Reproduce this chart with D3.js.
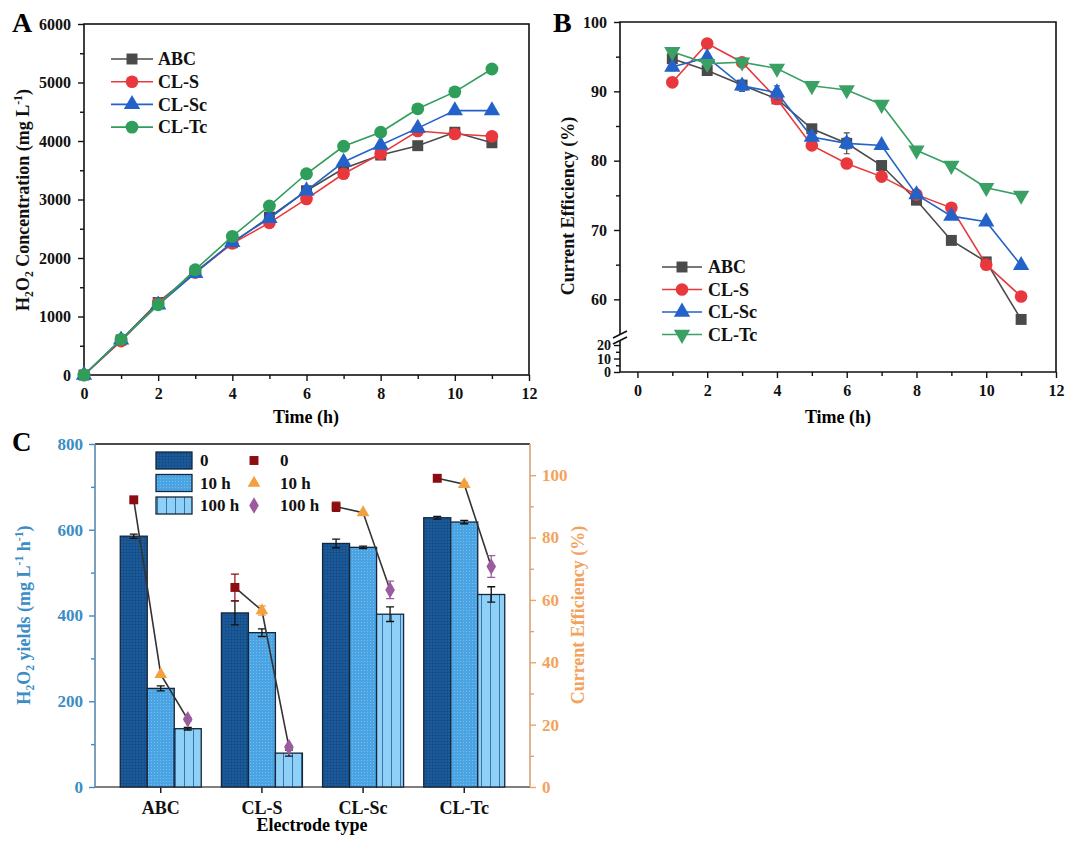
<!DOCTYPE html>
<html>
<head>
<meta charset="utf-8">
<script src="https://cdn.jsdelivr.net/npm/d3@7"></script>
<style>
  body { margin: 0; background: #fff; }
  svg text { font-family: "Liberation Serif", "Times New Roman", serif; font-weight: bold; }
</style>
</head>
<body>
<div id="chart"></div>
<script>
// Data, panel A (H2O2 concentration vs time)
const hoursA = [0, 1, 2, 3, 4, 5, 6, 7, 8, 9, 10, 11];
const concABC = [0, 600, 1240, 1760, 2260, 2700, 3150, 3530, 3760, 3920, 4150, 3970];
const concCLS = [0, 580, 1230, 1750, 2250, 2600, 3010, 3440, 3780, 4170, 4120, 4080];
const concCLSc = [0, 600, 1200, 1740, 2270, 2680, 3150, 3640, 3930, 4220, 4520, 4520];
const concCLTc = [0, 610, 1200, 1800, 2370, 2890, 3440, 3910, 4150, 4550, 4840, 5230];

// Data, panel B (current efficiency vs time)
const hoursB = [1, 2, 3, 4, 5, 6, 7, 8, 9, 10, 11];
const effABC = [94.7, 93.0, 90.9, 88.9, 84.6, 82.5, 79.3, 74.3, 68.5, 65.4, 57.1];
const effCLS = [91.3, 96.9, 94.2, 88.9, 82.2, 79.6, 77.7, 75.1, 73.2, 65.0, 60.4];
const effCLSc = [93.5, 94.9, 90.8, 89.8, 83.4, 82.5, 82.2, 75.1, 72.0, 71.2, 64.9];
const effCLTc = [95.7, 94.0, 94.2, 93.3, 90.8, 90.2, 88.1, 81.5, 79.3, 76.1, 75.0];
const errABC = [0.5, 0.5, 0.5, 0.5, 0.5, 1.5, 0.5, 0.5, 0.3, 0.5, 0.3];
const errCLSc = [0.5, 0.5, 0.8, 1.0, 0.5, 0.8, 0.3, 0.5, 0.3, 0.3, 0.3];

// Data, panel C (yields and efficiency by electrode)
const electrodes = ['ABC', 'CL-S', 'CL-Sc', 'CL-Tc'];
const stages = ['0', '10 h', '100 h'];
const yield0 = [585, 406, 568, 628];
const yield10 = [230, 360, 559, 618];
const yield100 = [136, 79, 403, 449];
const yieldErr0 = [5, 28, 10, 3];
const yieldErr10 = [6, 9, 3, 4];
const yieldErr100 = [3, 7, 17, 18];
const ce0 = [92.1, 64.0, 89.9, 99.0];
const ce10 = [36.1, 56.6, 88.0, 97.1];
const ce100 = [21.7, 12.8, 63.2, 70.7];
const ceErr0 = [0, 4.3, 1.5, 0];
const ceErr10 = [0, 1.5, 0, 0.6];
const ceErr100 = [0.5, 0.5, 2.8, 3.5];

const colABC = '#4a4a4a', colS = '#e8383d', colSc = '#2362c9', colTc = '#2f9e5a';
const fmt = d3.format('d');

const svg = d3.select('#chart').append('svg')
    .attr('width', 1080)
    .attr('height', 845);

// helper: style a d3 axis group
function styleAxis(g, size, color) {
    g.select('.domain').remove();
    g.selectAll('line').attr('stroke', color || '#111').attr('stroke-width', 1.4);
    g.selectAll('text').attr('font-size', size || 16).attr('fill', color || '#111');
}

// helper: rotated axis title with H2O2 subscripts etc
function addTitle(g, x, y, rot, parts, size, color) {
    const t = g.append('text')
        .attr('transform', `translate(${x},${y}) rotate(${rot})`)
        .attr('text-anchor', 'middle')
        .attr('font-size', size)
        .attr('fill', color || '#111');
    parts.forEach(p => {
        const sp = t.append('tspan').text(p.t);
        if (p.sub) sp.attr('font-size', size * 0.65).attr('dy', 4);
        if (p.sup) sp.attr('font-size', size * 0.65).attr('dy', -7);
        if (p.back) sp.attr('dy', p.back);
    });
    return t;
}

function symbolPath(type, size) {
    return d3.symbol().type(type).size(size)();
}

// Panel A
function drawPanelA() {
    const g = svg.append('g');
    const x = d3.scaleLinear().domain([0, 12]).range([84, 529]);
    const y = d3.scaleLinear().domain([0, 6000]).range([375, 24]);

    g.append('g').attr('transform', 'translate(0,375)')
        .call(d3.axisBottom(x).tickValues(d3.range(1, 12, 2)).tickSize(4).tickFormat(''))
        .call(a => styleAxis(a));
    g.append('g').attr('transform', 'translate(0,375)')
        .call(d3.axisBottom(x).tickValues(d3.range(0, 13, 2)).tickSize(6).tickPadding(7).tickFormat(fmt))
        .call(a => styleAxis(a));
    g.append('g').attr('transform', 'translate(84,0)')
        .call(d3.axisLeft(y).tickValues(d3.range(500, 6000, 1000)).tickSize(4).tickFormat(''))
        .call(a => styleAxis(a));
    g.append('g').attr('transform', 'translate(84,0)')
        .call(d3.axisLeft(y).tickValues(d3.range(0, 6001, 1000)).tickSize(6).tickPadding(7).tickFormat(fmt))
        .call(a => styleAxis(a));

    g.append('rect').attr('x', 84).attr('y', 24).attr('width', 445).attr('height', 351)
        .attr('fill', 'none').attr('stroke', '#111').attr('stroke-width', 1.6);

    const series = [
        { name: 'ABC', values: concABC, color: colABC, sym: d3.symbolSquare, size: 120 },
        { name: 'CL-S', values: concCLS, color: colS, sym: d3.symbolCircle, size: 125 },
        { name: 'CL-Sc', values: concCLSc, color: colSc, sym: d3.symbolTriangle, size: 115 },
        { name: 'CL-Tc', values: concCLTc, color: colTc, sym: d3.symbolCircle, size: 130 }
    ];
    const line = d3.line().x((d, i) => x(hoursA[i])).y(d => y(d));
    series.forEach(s => {
        g.append('path').attr('d', line(s.values)).attr('fill', 'none')
            .attr('stroke', s.color).attr('stroke-width', 1.6);
        g.selectAll(null).data(s.values).enter().append('path')
            .attr('d', symbolPath(s.sym, s.size))
            .attr('transform', (d, i) => `translate(${x(hoursA[i])},${y(d)})`)
            .attr('fill', s.color);
    });

    // legend
    series.forEach((s, i) => {
        const ly = 59 + i * 22.7;
        g.append('line').attr('x1', 111).attr('x2', 153).attr('y1', ly).attr('y2', ly)
            .attr('stroke', s.color).attr('stroke-width', 1.6);
        g.append('path').attr('d', symbolPath(s.sym, s.size))
            .attr('transform', `translate(132,${ly})`).attr('fill', s.color);
        g.append('text').attr('x', 158).attr('y', ly).attr('dy', '0.35em')
            .attr('font-size', 18).attr('fill', '#111').text(s.name);
    });

    g.append('text').attr('x', 12).attr('y', 32).attr('font-size', 28).text('A');
    g.append('text').attr('x', 306).attr('y', 423).attr('text-anchor', 'middle')
        .attr('font-size', 18).text('Time (h)');
    addTitle(g, 29, 200, -90, [
        { t: 'H' }, { t: '2', sub: true }, { t: 'O', back: -4 }, { t: '2', sub: true },
        { t: ' Concentration (mg L', back: -4 }, { t: '-1', sup: true }, { t: ')', back: 7 }
    ], 18);
}

// Panel B
function drawPanelB() {
    const g = svg.append('g');
    const x = d3.scaleLinear().domain([-0.5, 12]).range([620, 1056]);
    const yUp = d3.scaleLinear().domain([55, 100]).range([334, 22]);
    const yLow = d3.scaleLinear().domain([0, 23]).range([372, 341]);

    g.append('g').attr('transform', 'translate(0,372)')
        .call(d3.axisBottom(x).tickValues(d3.range(1, 12, 2)).tickSize(4).tickFormat(''))
        .call(a => styleAxis(a));
    g.append('g').attr('transform', 'translate(0,372)')
        .call(d3.axisBottom(x).tickValues(d3.range(0, 13, 2)).tickSize(6).tickPadding(7).tickFormat(fmt))
        .call(a => styleAxis(a));
    g.append('g').attr('transform', 'translate(620,0)')
        .call(d3.axisLeft(yUp).tickValues([65, 75, 85, 95]).tickSize(4).tickFormat(''))
        .call(a => styleAxis(a));
    g.append('g').attr('transform', 'translate(620,0)')
        .call(d3.axisLeft(yUp).tickValues([60, 70, 80, 90, 100]).tickSize(6).tickPadding(7).tickFormat(fmt))
        .call(a => styleAxis(a));
    g.append('g').attr('transform', 'translate(620,0)')
        .call(d3.axisLeft(yLow).tickValues([5, 15]).tickSize(4).tickFormat(''))
        .call(a => styleAxis(a));
    g.append('g').attr('transform', 'translate(620,0)')
        .call(d3.axisLeft(yLow).tickValues([0, 10, 20]).tickSize(6).tickPadding(3).tickFormat(fmt))
        .call(a => styleAxis(a, 14));

    // frame with break in the left axis
    const frame = g.append('g').attr('stroke', '#111').attr('stroke-width', 1.6).attr('fill', 'none');
    frame.append('path').attr('d', `M620,${yUp(55)}V22H1056V372H620V${yLow(23)}`);
    frame.append('line').attr('x1', 613).attr('x2', 627).attr('y1', 338).attr('y2', 331);
    frame.append('line').attr('x1', 613).attr('x2', 627).attr('y1', 344).attr('y2', 337);

    const series = [
        { name: 'ABC', values: effABC, err: errABC, color: colABC, sym: d3.symbolSquare, size: 120, rot: 0 },
        { name: 'CL-S', values: effCLS, err: null, color: colS, sym: d3.symbolCircle, size: 125, rot: 0 },
        { name: 'CL-Sc', values: effCLSc, err: errCLSc, color: colSc, sym: d3.symbolTriangle, size: 115, rot: 0 },
        { name: 'CL-Tc', values: effCLTc, err: null, color: '#3aa064', sym: d3.symbolTriangle, size: 115, rot: 180 }
    ];
    const line = d3.line().x((d, i) => x(hoursB[i])).y(d => yUp(d));
    series.forEach(s => {
        g.append('path').attr('d', line(s.values)).attr('fill', 'none')
            .attr('stroke', s.color).attr('stroke-width', 1.6);
        if (s.err) {
            g.selectAll(null).data(s.values).enter().append('path')
                .attr('d', (d, i) => {
                    const cx = x(hoursB[i]), t = yUp(d + s.err[i]), b = yUp(d - s.err[i]);
                    return `M${cx - 3},${t}H${cx + 3}M${cx},${t}V${b}M${cx - 3},${b}H${cx + 3}`;
                })
                .attr('stroke', s.color).attr('stroke-width', 1.2).attr('fill', 'none');
        }
        g.selectAll(null).data(s.values).enter().append('path')
            .attr('d', symbolPath(s.sym, s.size))
            .attr('transform', (d, i) => `translate(${x(hoursB[i])},${yUp(d)}) rotate(${s.rot})`)
            .attr('fill', s.color);
    });

    series.forEach((s, i) => {
        const ly = 267 + i * 22.5;
        g.append('line').attr('x1', 662).attr('x2', 702).attr('y1', ly).attr('y2', ly)
            .attr('stroke', s.color).attr('stroke-width', 1.6);
        g.append('path').attr('d', symbolPath(s.sym, s.size))
            .attr('transform', `translate(682,${ly}) rotate(${s.rot})`).attr('fill', s.color);
        g.append('text').attr('x', 708).attr('y', ly).attr('dy', '0.35em')
            .attr('font-size', 18).attr('fill', '#111').text(s.name);
    });

    g.append('text').attr('x', 553).attr('y', 32).attr('font-size', 28).text('B');
    g.append('text').attr('x', 838).attr('y', 423).attr('text-anchor', 'middle')
        .attr('font-size', 18).text('Time (h)');
    addTitle(g, 574, 206, -90, [{ t: 'Current Efficiency (%)' }], 18);
}

// Panel C
function drawPanelC() {
    const g = svg.append('g');
    const blue = '#3a8dc6', orange = '#f2a35e';
    const x = d3.scaleBand().domain(electrodes).range([95, 530]).paddingInner(0).paddingOuter(0.15);
    const xs = d3.scaleBand().domain(stages)
        .range([x.bandwidth() / 2 - 40.5, x.bandwidth() / 2 + 40.5]);
    const yL = d3.scaleLinear().domain([0, 800]).range([787, 444]);
    const yR = d3.scaleLinear().domain([0, 110]).range([787, 444]);

    // patterns for bar fills
    const defs = svg.append('defs');
    const p0 = defs.append('pattern').attr('id', 'pat0').attr('patternUnits', 'userSpaceOnUse')
        .attr('width', 3).attr('height', 3);
    p0.append('rect').attr('width', 3).attr('height', 3).attr('fill', '#1c5c9c');
    p0.append('path').attr('d', 'M0,0.5H3M0.5,0V3').attr('stroke', '#154c84').attr('stroke-width', 0.7);
    const p1 = defs.append('pattern').attr('id', 'pat1').attr('patternUnits', 'userSpaceOnUse')
        .attr('width', 3).attr('height', 3);
    p1.append('rect').attr('width', 3).attr('height', 3).attr('fill', '#4aa3e3');
    p1.append('circle').attr('cx', 1.5).attr('cy', 1.5).attr('r', 0.6).attr('fill', '#7fc2f0');
    const p2 = defs.append('pattern').attr('id', 'pat2').attr('patternUnits', 'userSpaceOnUse')
        .attr('width', 9).attr('height', 9);
    p2.append('rect').attr('width', 9).attr('height', 9).attr('fill', '#8fd0f6');
    p2.append('path').attr('d', 'M4.5,0V9').attr('stroke', '#2d6aa3').attr('stroke-width', 0.9);
    const fills = ['url(#pat0)', 'url(#pat1)', 'url(#pat2)'];

    // axes
    g.append('g').attr('transform', 'translate(0,787)')
        .call(d3.axisBottom(x).tickSize(6).tickPadding(8))
        .call(a => styleAxis(a, 18));
    g.append('line').attr('x1', 95).attr('x2', 530).attr('y1', 787).attr('y2', 787)
        .attr('stroke', '#555').attr('stroke-width', 1.6);
    g.append('line').attr('x1', 95).attr('x2', 530).attr('y1', 444).attr('y2', 444)
        .attr('stroke', '#111').attr('stroke-width', 1.6);

    g.append('g').attr('transform', 'translate(95,0)')
        .call(d3.axisLeft(yL).tickValues([100, 300, 500, 700]).tickSize(4).tickFormat(''))
        .call(a => styleAxis(a, 16, blue));
    g.append('g').attr('transform', 'translate(95,0)')
        .call(d3.axisLeft(yL).tickValues(d3.range(0, 801, 200)).tickSize(6).tickPadding(6).tickFormat(fmt))
        .call(a => styleAxis(a, 17, blue));
    g.append('line').attr('x1', 95).attr('x2', 95).attr('y1', 444).attr('y2', 787)
        .attr('stroke', '#5b87ad').attr('stroke-width', 1.6);

    g.append('g').attr('transform', 'translate(530,0)')
        .call(d3.axisRight(yR).tickValues(d3.range(10, 110, 20)).tickSize(4).tickFormat(''))
        .call(a => styleAxis(a, 16, '#d9a27a'));
    g.append('g').attr('transform', 'translate(530,0)')
        .call(d3.axisRight(yR).tickValues(d3.range(0, 101, 20)).tickSize(6).tickPadding(6).tickFormat(fmt))
        .call(a => styleAxis(a, 17, orange));
    g.append('line').attr('x1', 530).attr('x2', 530).attr('y1', 444).attr('y2', 787)
        .attr('stroke', '#d9a27a').attr('stroke-width', 1.6);

    // bars
    const yields = [yield0, yield10, yield100];
    const yErrs = [yieldErr0, yieldErr10, yieldErr100];
    stages.forEach((st, k) => {
        g.selectAll(null).data(yields[k]).enter().append('rect')
            .attr('x', (d, i) => x(electrodes[i]) + xs(st))
            .attr('width', xs.bandwidth())
            .attr('y', d => yL(d))
            .attr('height', d => yL(0) - yL(d))
            .attr('fill', fills[k]).attr('stroke', '#17263a').attr('stroke-width', 1.3);
        g.selectAll(null).data(yields[k]).enter().append('path')
            .attr('d', (d, i) => {
                const cx = x(electrodes[i]) + xs(st) + xs.bandwidth() / 2;
                const t = yL(d + yErrs[k][i]), b = yL(d - yErrs[k][i]);
                return `M${cx - 4},${t}H${cx + 4}M${cx},${t}V${b}M${cx - 4},${b}H${cx + 4}`;
            })
            .attr('stroke', '#111').attr('stroke-width', 1.3).attr('fill', 'none');
    });

    // efficiency points and connecting lines
    const ces = [ce0, ce10, ce100];
    const ceErrs = [ceErr0, ceErr10, ceErr100];
    const ceCols = ['#8b0d12', '#f2a040', '#9a5c9e'];
    const ceSyms = [d3.symbolSquare, d3.symbolTriangle, d3.symbolDiamond];
    const ceSizes = [80, 70, 80];
    const cx = (i, k) => x(electrodes[i]) + xs(stages[k]) + xs.bandwidth() / 2;
    electrodes.forEach((e, i) => {
        const pts = ces.map((arr, k) => [cx(i, k), yR(arr[i])]);
        g.append('path').attr('d', d3.line()(pts)).attr('fill', 'none')
            .attr('stroke', '#333').attr('stroke-width', 1.6);
    });
    ces.forEach((arr, k) => {
        g.selectAll(null).data(arr).enter().append('path')
            .attr('d', (d, i) => {
                const px = cx(i, k), t = yR(d + ceErrs[k][i]), b = yR(d - ceErrs[k][i]);
                return `M${px - 4},${t}H${px + 4}M${px},${t}V${b}M${px - 4},${b}H${px + 4}`;
            })
            .attr('stroke', ceCols[k]).attr('stroke-width', 1.2).attr('fill', 'none')
            .attr('opacity', (d, i) => ceErrs[k][i] > 0 ? 1 : 0);
        g.selectAll(null).data(arr).enter().append('path')
            .attr('d', symbolPath(ceSyms[k], ceSizes[k]))
            .attr('transform', (d, i) => `translate(${cx(i, k)},${yR(d)})`)
            .attr('fill', ceCols[k]);
    });

    // legend
    stages.forEach((st, k) => {
        const ly = 452 + k * 22.5;
        g.append('rect').attr('x', 156).attr('y', ly).attr('width', 36).attr('height', 17)
            .attr('fill', fills[k]).attr('stroke', '#17263a').attr('stroke-width', 1.3);
        g.append('text').attr('x', 200).attr('y', ly + 8.5).attr('dy', '0.35em')
            .attr('font-size', 17).attr('fill', '#111').text(st);
        g.append('path').attr('d', symbolPath(ceSyms[k], ceSizes[k]))
            .attr('transform', `translate(254,${ly + 8.5})`).attr('fill', ceCols[k]);
        g.append('text').attr('x', 280).attr('y', ly + 8.5).attr('dy', '0.35em')
            .attr('font-size', 17).attr('fill', '#111').text(st);
    });

    g.append('text').attr('x', 12).attr('y', 451).attr('font-size', 27).text('C');
    g.append('text').attr('x', 312).attr('y', 831).attr('text-anchor', 'middle')
        .attr('font-size', 18).text('Electrode type');
    addTitle(g, 30, 615, -90, [
        { t: 'H' }, { t: '2', sub: true }, { t: 'O', back: -4 }, { t: '2', sub: true },
        { t: ' yields (mg L', back: -4 }, { t: '-1', sup: true }, { t: ' h', back: 7 },
        { t: '-1', sup: true }, { t: ')', back: 7 }
    ], 18, blue);
    addTitle(g, 584, 615, -90, [{ t: 'Current Efficiency (%)' }], 18, orange);
}

drawPanelA();
drawPanelB();
drawPanelC();
</script>
</body>
</html>
